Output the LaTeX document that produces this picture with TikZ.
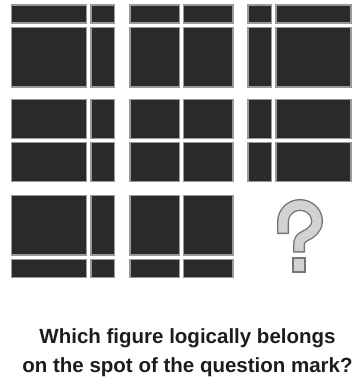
\documentclass[tikz,border=0pt]{standalone}
\usepackage{fontspec}
\setmainfont{Liberation Sans}
\usetikzlibrary{positioning}
\definecolor{Block}{HTML}{2A2A2A}
\definecolor{Edge}{HTML}{9A9A9A}
\definecolor{QFill}{HTML}{D2D2D2}
\definecolor{QLine}{HTML}{767676}
\definecolor{Ink}{HTML}{1C1C1C}

\begin{document}
\begin{tikzpicture}[x=1pt,y=-1pt,piece/.style={fill=Block,draw=Edge,line width=1.1pt},
    qmark/.style={draw=QLine,line width=1.4pt,double=QFill,double distance=9.2pt,line cap=rect},
    question/.style={anchor=base,text=Ink,font=\fontsize{20.5}{24}\selectfont\bfseries}]
  \useasboundingbox (0,0) rectangle (357,385);
  % panels: left x / top y / width of left part / height of upper part
  \foreach \px/\py/\lw/\th in {11.5/5/75/18, 130/5/49.25/18, 248/5/23.5/18,
      11.5/99.5/75/38.75, 130/99.5/49.25/38.75, 248/99.5/23.5/38.75,
      11.5/195.5/75/59.5, 130/195.5/49.25/59.5}{
    \path[piece] (\px,\py) rectangle ++(\lw,\th);
    \path[piece] (\px+\lw+4.5,\py) rectangle (\px+103,\py+\th);
    \path[piece] (\px,\py+\th+4.5) rectangle (\px+\lw,\py+82);
    \path[piece] (\px+\lw+4.5,\py+\th+4.5) rectangle (\px+103,\py+82);
  }
  % the missing one
  \draw[qmark] (283,228) -- (283,222) .. controls (283,212) and (291,205) .. (300,205)
    .. controls (309,205) and (317,212) .. (317,221) .. controls (317,229) and (311,233) .. (305,236)
    .. controls (301,238) and (299,240) .. (299,245) -- (299,246.5);
  \draw[fill=QFill,draw=QLine,line width=1.4pt] (293,258) rectangle (305,272);
  \node[question] (line1) at (187.5,343) {Which figure logically belongs};
  \node[question] (line2) at (187.5,372) {on the spot of the question mark?};
\end{tikzpicture}
\end{document}
